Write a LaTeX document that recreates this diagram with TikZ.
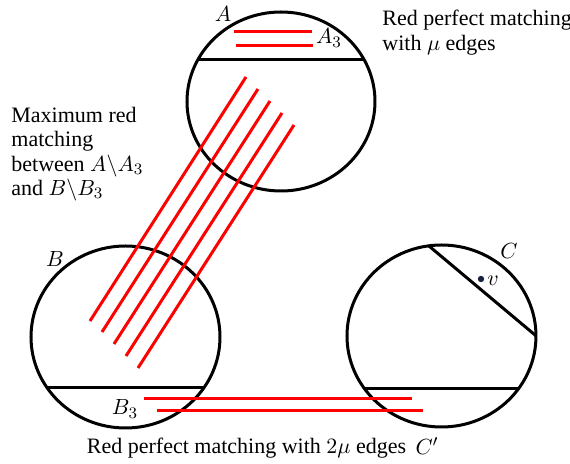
\documentclass[tikz,border=0pt]{standalone}
\usepackage{fontspec}
\setmainfont{Liberation Serif}
\definecolor{vdot}{RGB}{25,35,65}

\begin{document}
\begin{tikzpicture}[x=0.5pt,y=-0.5pt,
  every node/.style={font=\fontsize{11}{12.25}\selectfont},
  ring/.style={draw,line width=1.5pt},
  cut/.style={draw,line width=1.5pt},
  redge/.style={draw=red,line width=1.5pt},
  lbl/.style={inner sep=0pt},
  txt/.style={inner sep=0pt,align=left,anchor=west},
  pt/.style={circle,fill=vdot,inner sep=0pt,minimum size=3.2pt}]

  \useasboundingbox (0,0) rectangle (570,464);

  % PART A
  \draw[ring] (281,101.5) ellipse [x radius=47pt,y radius=44.75pt];
  \begin{scope}
    \clip (281,101.5) ellipse [x radius=47pt,y radius=44.75pt];
    \draw[cut] (150,60) -- (420,60);
  \end{scope}
  \node[lbl] (A) at (223,14) {$A$};
  \node[lbl] (A3) at (329,38) {$A_3$};
  \draw[redge] (234,32) -- (312,32);
  \draw[redge] (236,46) -- (313,46);
  \node[txt] (topnote) at (382,32.5) {Red perfect matching\\with $\mu$ edges};

  % PART B
  \draw[ring] (125.5,337) ellipse [x radius=47.25pt,y radius=45.5pt];
  \begin{scope}
    \clip (125.5,337) ellipse [x radius=47.25pt,y radius=45.5pt];
    \draw[cut] (0,388) -- (260,388);
  \end{scope}
  \node[lbl] (B) at (55,259) {$B$};
  \node[lbl] (B3) at (125,409) {$B_3$};

  % PART C
  \draw[ring] (441.5,336) ellipse [x radius=47.25pt,y radius=45.5pt];
  \begin{scope}
    \clip (441.5,336) ellipse [x radius=47.25pt,y radius=45.5pt];
    \draw[cut] (330,389) -- (570,389);
    \draw[cut] (418,236.8) -- (546,344.2);
  \end{scope}
  \node[lbl] (C) at (509,251) {$C$};
  \node[pt] (v) at (481,279) {};
  \node[lbl,anchor=west] (vl) at (487,281) {$v$};
  \node[lbl] (Cp) at (427,446) {$C'$};

  % Matching between A\A3 and B\B3
  \draw[redge] (246,77) -- (90,321);
  \draw[redge] (258,89) -- (102,332);
  \draw[redge] (270,101) -- (114,344);
  \draw[redge] (282,113) -- (126,356);
  \draw[redge] (294,125) -- (138,368);
  \node[txt] (leftnote) at (11,154) {Maximum red\\matching\\between $A\backslash A_3$\\and $B\backslash B_3$};

  % Matching between B3 and C'
  \draw[redge] (144,399) -- (412,399);
  \draw[redge] (157,411) -- (423,411);
  \node[lbl] (botnote) at (246.5,448) {Red perfect matching with $2\mu$ edges};

\end{tikzpicture}
\end{document}
